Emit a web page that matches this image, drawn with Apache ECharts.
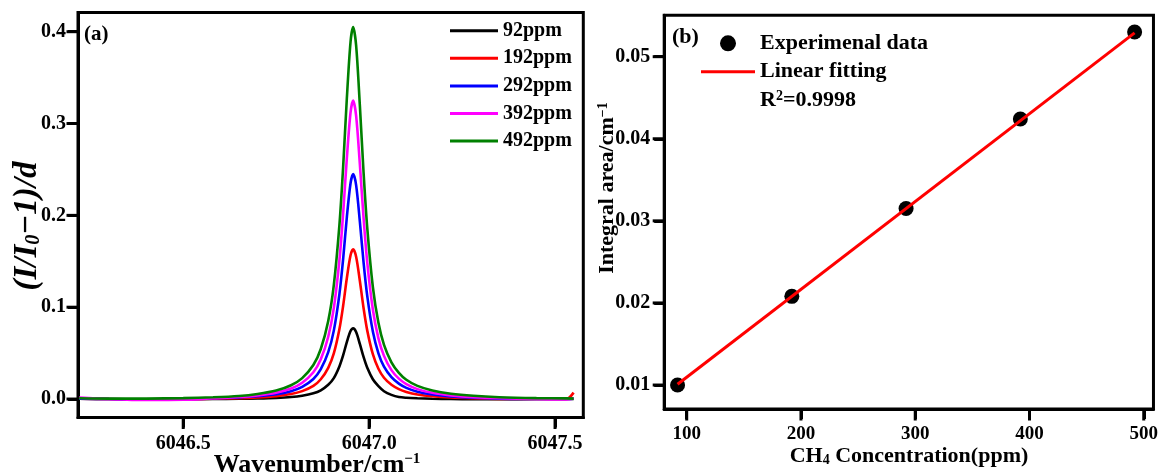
<!DOCTYPE html>
<html>
<head>
<meta charset="utf-8">
<script src="https://cdn.jsdelivr.net/npm/echarts@6/dist/echarts.min.js"></script>
<style>
  html, body { margin: 0; padding: 0; background: #fff; }
  #chart { width: 1161px; height: 475px; }
</style>
</head>
<body>
<div id="chart"></div>
<script>
// ---------- Panel (a) data ----------
const wavenumber = [6046.22, 6046.30, 6046.40, 6046.50, 6046.58, 6046.65, 6046.70, 6046.75, 6046.79, 6046.82,
  6046.85, 6046.87, 6046.89, 6046.905, 6046.92, 6046.93, 6046.94, 6046.95, 6046.957, 6046.965,
  6046.975, 6046.985, 6046.995, 6047.01, 6047.025, 6047.04, 6047.06, 6047.08, 6047.10, 6047.13,
  6047.17, 6047.22, 6047.28, 6047.35, 6047.45, 6047.53, 6047.55];
const seriesNames = ['92ppm', '192ppm', '292ppm', '392ppm', '492ppm'];
const ppm92 = [0.0003,0.0000,-0.0003,-0.0003,0.0000,0.0003,0.0007,0.0013,0.0022,0.0036,
  0.0062,0.0095,0.0155,0.0228,0.0355,0.0475,0.0620,0.0740,0.0770,0.0730,
  0.0600,0.0458,0.0340,0.0215,0.0140,0.0085,0.0045,0.0022,0.0014,0.0008,
  0.0003,0.0000,-0.0002,-0.0002,0.0000,0.0000,0.0002];
const ppm192 = [0.0005,0.0000,-0.0003,-0.0002,0.0004,0.0010,0.0018,0.0032,0.0054,0.0086,
  0.0143,0.0215,0.0340,0.0497,0.0760,0.1013,0.1315,0.1565,0.1630,0.1550,
  0.1288,0.0992,0.0745,0.0488,0.0330,0.0232,0.0155,0.0108,0.0078,0.0050,
  0.0030,0.0016,0.0008,0.0002,0.0000,0.0000,0.0070];
const ppm292 = [0.0005,0.0000,-0.0005,-0.0002,0.0008,0.0018,0.0030,0.0052,0.0086,0.0133,
  0.0218,0.0325,0.0510,0.0745,0.1140,0.1520,0.1978,0.2350,0.2450,0.2330,
  0.1935,0.1490,0.1120,0.0735,0.0498,0.0352,0.0238,0.0168,0.0122,0.0080,
  0.0050,0.0028,0.0014,0.0005,0.0000,0.0000,0.0003];
const ppm392 = [0.0015,0.0000,-0.0010,-0.0008,0.0008,0.0022,0.0040,0.0070,0.0115,0.0178,
  0.0292,0.0432,0.0678,0.0990,0.1510,0.2015,0.2620,0.3120,0.3250,0.3085,
  0.2560,0.1975,0.1485,0.0975,0.0660,0.0470,0.0315,0.0222,0.0163,0.0108,
  0.0068,0.0040,0.0020,0.0008,0.0000,-0.0005,0.0005];
const ppm492 = [0.0008,0.0004,0.0005,0.0010,0.0019,0.0033,0.0055,0.0092,0.0150,0.0228,
  0.0370,0.0545,0.0850,0.1240,0.1890,0.2520,0.3270,0.3890,0.4050,0.3850,
  0.3200,0.2470,0.1860,0.1220,0.0830,0.0590,0.0400,0.0285,0.0210,0.0143,
  0.0093,0.0058,0.0035,0.0020,0.0010,0.0007,0.0005];
const seriesColors = ['#000000', '#ff0000', '#0000ff', '#ff00ff', '#008000'];
const xTicksA = [6046.5, 6047.0, 6047.5];
const yTicksA = [0.0, 0.1, 0.2, 0.3, 0.4];

// ---------- Panel (b) data ----------
const concentration = [92, 192, 292, 392, 492];
const integralArea = [0.0100, 0.0208, 0.0315, 0.0424, 0.0530];
const fitX = [92, 492];
const fitY = [0.0101, 0.0529];
const xTicksB = [100, 200, 300, 400, 500];
const yTicksB = [0.01, 0.02, 0.03, 0.04, 0.05];

// axis ranges
const xRangeA = [6046.217, 6047.576], yRangeA = [-0.0201, 0.4209];
const xRangeB = [80.3, 508.5], yRangeB = [0.00708, 0.05504];

const FONT = "'Times New Roman', 'Liberation Serif', serif";
const curves = [ppm92, ppm192, ppm292, ppm392, ppm492];
const TICK_LEN = 10;

function tick(vals) { return { show: true, length: TICK_LEN, lineStyle: { color: '#000', width: 3 }, customValues: vals }; }
function label(vals, extra) {
  return Object.assign({ color: '#000', fontFamily: FONT, fontWeight: 'bold', fontSize: 20, customValues: vals }, extra);
}
function axLine() { return { show: true, onZero: false, lineStyle: { color: '#000', width: 3 } }; }

// outward tick marks drawn through the axes' own scales
function tickSeries(gi, xTicks, yTicks, xRange, yRange) {
  const data = xTicks.map(v => [v, yRange[0], 0]).concat(yTicks.map(v => [xRange[0], v, 1]));
  return {
    type: 'custom', xAxisIndex: gi, yAxisIndex: gi, clip: false, silent: true, z: 10,
    data: data,
    encode: { x: 0, y: 1 },
    renderItem: function (params, api) {
      const p = api.coord([api.value(0), api.value(1)]);
      const isX = api.value(2) === 0;
      return {
        type: 'line',
        shape: isX ? { x1: p[0], y1: p[1], x2: p[0], y2: p[1] + TICK_LEN + 1.5 }
                   : { x1: p[0], y1: p[1], x2: p[0] - TICK_LEN - 1.5, y2: p[1] },
        style: { stroke: '#000', lineWidth: 3 }
      };
    }
  };
}

const chart = echarts.init(document.getElementById('chart'));

const lineSeries = curves.map((ys, i) => ({
  name: seriesNames[i],
  type: 'line',
  xAxisIndex: 0, yAxisIndex: 0,
  data: wavenumber.map((x, j) => [x, ys[j]]),
  showSymbol: false,
  symbol: 'none',
  smooth: 0.3,
  lineStyle: { color: seriesColors[i], width: 2.6 },
  itemStyle: { color: seriesColors[i] },
  z: 2 + i
}));

const option = {
  animation: false,
  grid: [
    { left: 78, right: 577.7, top: 12.5, bottom: 57.5, show: true, borderColor: '#000', borderWidth: 3 },
    { left: 664.2, right: 7.3, top: 15.3, bottom: 66, show: true, borderColor: '#000', borderWidth: 3 }
  ],
  xAxis: [
    { type: 'value', gridIndex: 0, min: xRangeA[0], max: xRangeA[1],
      axisLine: axLine(), splitLine: { show: false },
      axisTick: tick(xTicksA),
      axisLabel: label(xTicksA, { margin: 16, formatter: v => v.toFixed(1) }) },
    { type: 'value', gridIndex: 1, min: xRangeB[0], max: xRangeB[1],
      axisLine: axLine(), splitLine: { show: false },
      axisTick: tick(xTicksB),
      axisLabel: label(xTicksB, { fontSize: 19, margin: 16, formatter: v => String(Math.round(v)) }) }
  ],
  yAxis: [
    { type: 'value', gridIndex: 0, min: yRangeA[0], max: yRangeA[1],
      axisLine: axLine(), splitLine: { show: false },
      axisTick: tick(yTicksA),
      axisLabel: label(yTicksA, { margin: 12, formatter: v => v.toFixed(1) }) },
    { type: 'value', gridIndex: 1, min: yRangeB[0], max: yRangeB[1],
      axisLine: axLine(), splitLine: { show: false },
      axisTick: tick(yTicksB),
      axisLabel: label(yTicksB, { margin: 14, formatter: v => v.toFixed(2) }) }
  ],
  legend: [
    { data: seriesNames, orient: 'vertical', left: 450, top: 20.7, padding: 0,
      icon: 'rect', itemWidth: 48, itemHeight: 3, itemGap: 7.6,
      textStyle: { color: '#000', fontFamily: FONT, fontWeight: 'bold', fontSize: 20 } },
    { data: [
        { name: 'Experimenal data', icon: 'circle' },
        { name: 'Linear fitting', icon: 'path://M0,0 L54,0 L54,3 L0,3 Z' }
      ],
      orient: 'vertical', left: 701, top: 32.3, padding: 0,
      itemWidth: 54, itemHeight: 16, itemGap: 6.4, symbolKeepAspect: true,
      textStyle: { color: '#000', fontFamily: FONT, fontWeight: 'bold', fontSize: 22 } }
  ],
  graphic: [
    { type: 'text', left: 84, top: 24, style: { text: '(a)', font: "bold 21px 'Times New Roman', 'Liberation Serif', serif", fill: '#000' } },
    { type: 'text', left: 672, top: 26, style: { text: '(b)', font: "bold 22px 'Times New Roman', 'Liberation Serif', serif", fill: '#000' } },
    { type: 'text', x: 760, y: 100, style: {
        text: '{a|R}{s|2}{a|=0.9998}', verticalAlign: 'middle', fill: '#000',
        rich: { a: { fontFamily: FONT, fontWeight: 'bold', fontSize: 22, fill: '#000' },
                s: { fontFamily: FONT, fontWeight: 'bold', fontSize: 14, verticalAlign: 'top', fill: '#000' } } } },
    { type: 'text', x: 317, y: 465, style: {
        text: '{a|Wavenumber/cm}{s|−1}', align: 'center', verticalAlign: 'middle',
        rich: { a: { fontFamily: FONT, fontWeight: 'bold', fontSize: 26, fill: '#000' },
                s: { fontFamily: FONT, fontWeight: 'bold', fontSize: 15, verticalAlign: 'top', fill: '#000' } } } },
    { type: 'text', x: 909, y: 456, style: {
        text: '{a|CH}{s|4}{a| Concentration(ppm)}', align: 'center', verticalAlign: 'middle',
        rich: { a: { fontFamily: FONT, fontWeight: 'bold', fontSize: 22, fill: '#000' },
                s: { fontFamily: FONT, fontWeight: 'bold', fontSize: 14, verticalAlign: 'bottom', fill: '#000' } } } },
    { type: 'text', x: 27, y: 226, rotation: Math.PI / 2, style: {
        text: '{a|(I/I}{s|0}{a|−1)/d}', align: 'center', verticalAlign: 'middle',
        rich: { a: { fontFamily: FONT, fontWeight: 'bold', fontStyle: 'italic', fontSize: 33, fill: '#000' },
                s: { fontFamily: FONT, fontWeight: 'bold', fontStyle: 'italic', fontSize: 20, verticalAlign: 'bottom', fill: '#000' } } } },
    { type: 'text', x: 607, y: 188, rotation: Math.PI / 2, style: {
        text: '{a|Integral area/cm}{s|−1}', align: 'center', verticalAlign: 'middle',
        rich: { a: { fontFamily: FONT, fontWeight: 'bold', fontSize: 22, fill: '#000' },
                s: { fontFamily: FONT, fontWeight: 'bold', fontSize: 14, verticalAlign: 'top', fill: '#000' } } } }
  ],
  series: lineSeries.concat([
    { name: 'Experimenal data', type: 'scatter', xAxisIndex: 1, yAxisIndex: 1,
      data: concentration.map((c, i) => [c, integralArea[i]]),
      symbol: 'circle', symbolSize: 15, itemStyle: { color: '#000', opacity: 1 }, z: 2 },
    { name: 'Linear fitting', type: 'line', xAxisIndex: 1, yAxisIndex: 1,
      data: fitX.map((x, i) => [x, fitY[i]]),
      showSymbol: false, symbol: 'none',
      lineStyle: { color: '#ff0000', width: 3 }, itemStyle: { color: '#ff0000' }, z: 5 },
    tickSeries(0, xTicksA, yTicksA, xRangeA, yRangeA),
    tickSeries(1, xTicksB, yTicksB, xRangeB, yRangeB)
  ])
};
chart.setOption(option);
</script>
</body>
</html>
